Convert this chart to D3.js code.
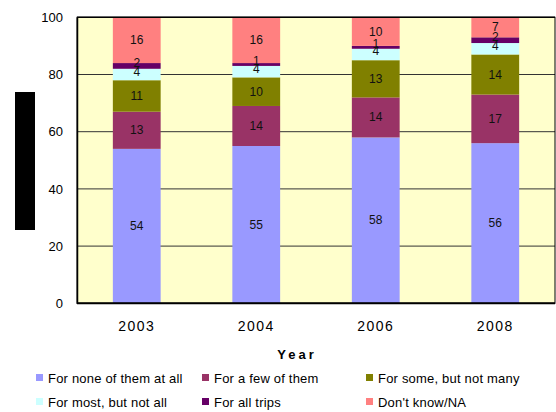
<!DOCTYPE html>
<html><head><meta charset="utf-8">
<script src="https://cdn.jsdelivr.net/npm/d3@7"></script>
<style>body{margin:0;background:#fff}svg{display:block;font-family:"Liberation Sans",Arial,sans-serif}</style>
</head><body><svg id="c" width="556" height="412"></svg>
<script>
const categories = ["2003","2004","2006","2008"];
const seriesNames = ["For none of them at all","For a few of them","For some, but not many","For most, but not all","For all trips","Don't know/NA"];
const noneAtAll = [54,55,58,56];
const fewOfThem = [13,14,14,17];
const someNotMany = [11,10,13,14];
const mostNotAll = [4,4,4,4];
const allTrips = [2,1,1,2];
const dontKnow = [16,16,10,7];
const yTicks = [0,20,40,60,80,100];
const colors = ["#9999FF","#993366","#808000","#CCFFFF","#660066","#FF8080"];

const series = [noneAtAll,fewOfThem,someNotMany,mostNotAll,allTrips,dontKnow];
const rows = categories.map((c,i)=>{const o={cat:c}; seriesNames.forEach((s,j)=>o[s]=series[j][i]); return o;});
const stacked = d3.stack().keys(seriesNames)(rows);

const svg = d3.select("#c");
const L=77, R=555, T=17.3, B=303.3;
const x = d3.scaleBand().domain(categories).range([L,R]).paddingInner(0.6).paddingOuter(0.3);
const y = d3.scaleLinear().domain([0,100]).range([B,T]);

svg.append("rect").attr("x",L).attr("y",T).attr("width",R-L).attr("height",B-T).attr("fill","#FFFFCC");
svg.append("g").selectAll("line").data(yTicks.filter(t=>t>0&&t<100)).join("line")
  .attr("x1",L).attr("x2",R).attr("y1",d=>y(d)).attr("y2",d=>y(d)).attr("stroke","#333").attr("stroke-width",1);

const g = svg.append("g");
stacked.forEach((s,j)=>{
  g.selectAll(null).data(s).join("rect")
   .attr("x",d=>x(d.data.cat)).attr("width",x.bandwidth())
   .attr("y",d=>y(d[1])).attr("height",d=>y(d[0])-y(d[1]))
   .attr("fill",colors[j]);
});
stacked.forEach((s,j)=>{
  g.selectAll(null).data(s).join("text")
   .attr("x",d=>x(d.data.cat)+x.bandwidth()/2)
   .attr("y",d=>(y(d[0])+y(d[1]))/2 + (d[1]-d[0]<6 ? 1 : 4))
   .attr("text-anchor","middle").attr("font-size",12).attr("fill","#111")
   .text(d=>d[1]-d[0]);
});

// frame
svg.append("rect").attr("x",L).attr("y",T).attr("width",R-L).attr("height",B-T).attr("fill","none").attr("stroke","#000").attr("stroke-width",1);
svg.append("line").attr("x1",L).attr("x2",R).attr("y1",B).attr("y2",B).attr("stroke","#000").attr("stroke-width",2);
svg.append("line").attr("x1",L).attr("x2",R).attr("y1",T).attr("y2",T).attr("stroke","#000").attr("stroke-width",1.5);

const ya = d3.axisLeft(y).tickValues(yTicks).tickSize(0).tickPadding(14);
const yg = svg.append("g").attr("transform",`translate(${L},0)`).call(ya);
yg.select(".domain").attr("stroke","#000").attr("stroke-width",1.5);
yg.selectAll("text").attr("font-size",13).attr("font-family","Liberation Sans, Arial, sans-serif").attr("fill","#000");

const xa = d3.axisBottom(x).tickSize(0).tickPadding(18);
const xg = svg.append("g").attr("transform",`translate(0,${B})`).call(xa);
xg.select(".domain").remove();
xg.selectAll("text").attr("font-size",14).attr("letter-spacing","1.5px").attr("font-family","Liberation Sans, Arial, sans-serif").attr("fill","#000");

svg.append("text").attr("x",297).attr("y",359).attr("text-anchor","middle").attr("font-size",13)
  .attr("font-weight","bold").attr("letter-spacing","3px").text("Year");

// y-axis title block (rendered as black box in reference)
svg.append("rect").attr("x",15).attr("y",92).attr("width",20).attr("height",138).attr("fill","#000");

const legX=[36,202,366], legY=[378,402];
const lg = svg.append("g");
seriesNames.forEach((s,i)=>{
  const cx=legX[i%3], cy=legY[Math.floor(i/3)];
  lg.append("rect").attr("x",cx).attr("y",cy-4).attr("width",7).attr("height",7).attr("fill",colors[i]);
  lg.append("text").attr("x",cx+12).attr("y",cy+4.5).attr("font-size",13).attr("letter-spacing","0.2px").text(s);
});
</script></body></html>
